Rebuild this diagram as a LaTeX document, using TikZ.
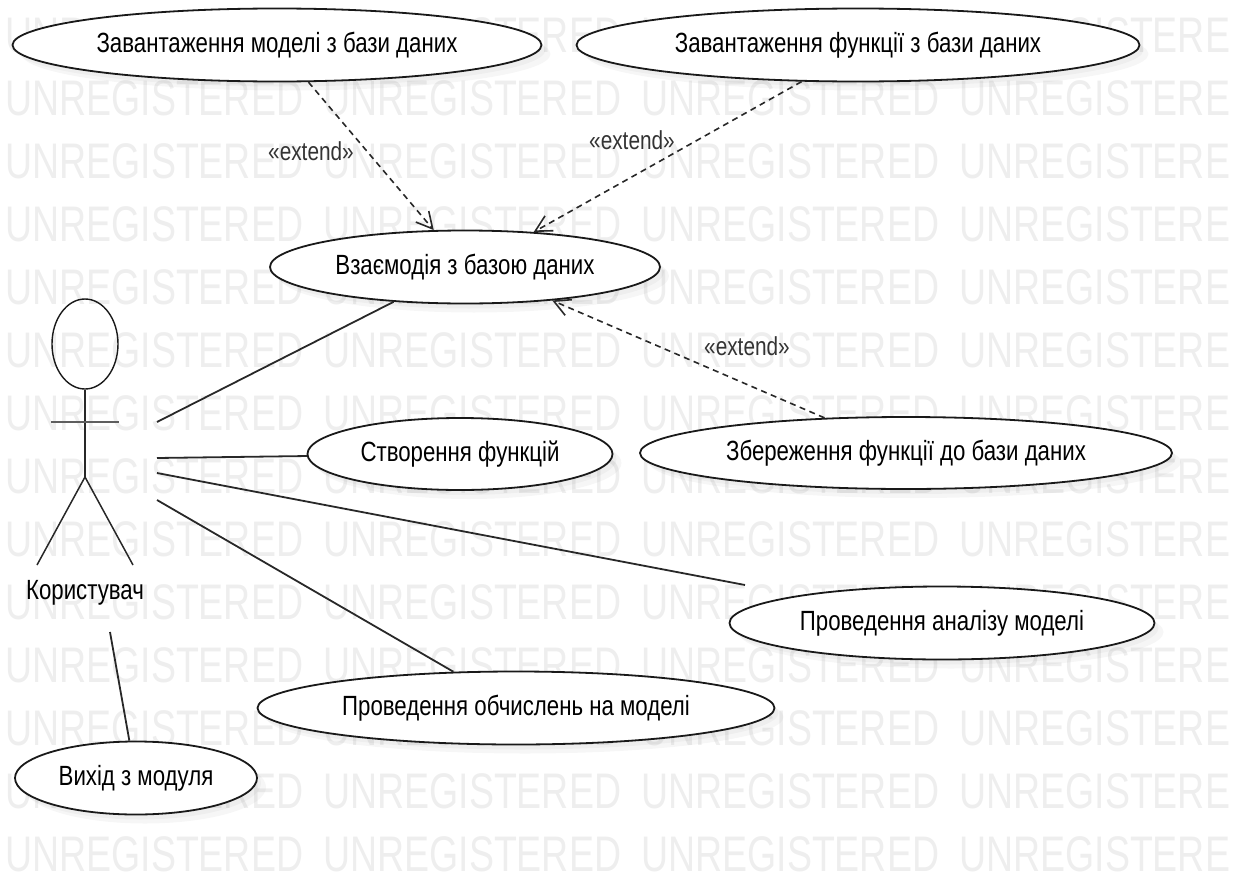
\documentclass[tikz,border=0pt]{standalone}
\usepackage{fontspec}
\setmainfont{Liberation Sans}[FakeStretch=0.8]
\newfontfamily\wmfont{Liberation Sans}[FakeStretch=0.75]
\usetikzlibrary{shapes.geometric,arrows.meta,shadows}
\definecolor{wmgray}{RGB}{238,238,238}
\definecolor{linegray}{RGB}{40,40,40}
\tikzset{
  usecase/.style={draw=black!90,line width=1.8pt,fill=white,ellipse,inner sep=0pt,text=black,font=\fontsize{27.8}{30}\selectfont,
    drop shadow={opacity=.07,shadow xshift=9pt,shadow yshift=-9pt},drop shadow={opacity=.07,shadow xshift=4pt,shadow yshift=-5pt}},
  watermark/.style={text=wmgray,inner sep=0pt,anchor=west,font=\wmfont\fontsize{50}{50}\selectfont},
  stereo/.style={text=black!80,inner sep=0pt,font=\fontsize{26}{28}\selectfont},
  assoc/.style={draw=linegray,line width=1.8pt},
  extendline/.style={draw=linegray,line width=1.6pt,dash pattern=on 6pt off 4.5pt,-{Straight Barb[length=16pt,width=17pt,line width=1.6pt]}}
}
\begin{document}
\begin{tikzpicture}[x=1pt,y=-1pt]
  \useasboundingbox (0,0) rectangle (1248,886);
  \begin{scope}
    \clip (0,0) rectangle (1231,886);
    \foreach \row in {0,...,13}
      \foreach \col in {0,...,3}
        \node[watermark] (wm\row\col) at ({5+318*\col},{35+63*\row}) {UNREGISTERED};
  \end{scope}
  \draw
    (277,45) node[usecase,minimum width=529pt,minimum height=73pt] (loadmodel){Завантаження моделі з бази даних}
    (858,45) node[usecase,minimum width=563pt,minimum height=73pt] (loadfunc){Завантаження функції з бази даних}
    (465,267) node[usecase,minimum width=390pt,minimum height=73pt] (database){Взаємодія з базою даних}
    (460,454) node[usecase,minimum width=305pt,minimum height=72pt] (createfunc){Створення функцій}
    (906,453) node[usecase,minimum width=532pt,minimum height=72pt] (savefunc){Збереження функції до бази даних}
    (942,623) node[usecase,minimum width=425pt,minimum height=73pt] (analysis){Проведення аналізу моделі}
    (516,708) node[usecase,minimum width=517pt,minimum height=73pt] (compute){Проведення обчислень на моделі}
    (136,778) node[usecase,minimum width=242pt,minimum height=73pt] (quit){Вихід з модуля};
  % actor
  \draw[assoc,line width=1.4pt]
    (85,344) node[draw=black!90,line width=1.4pt,ellipse,inner sep=0pt,minimum width=66pt,minimum height=90pt] (head){};
  \coordinate (hip) at (85,477);
  \coordinate (armleft) at (51,422);
  \coordinate (armright) at (119,422);
  \coordinate (footleft) at (37,565);
  \coordinate (footright) at (133,565);
  \node[text=black,inner sep=0pt,font=\fontsize{27.8}{30}\selectfont] (user) at (85,593) {Користувач};
  \draw[assoc] (head) -- (hip);
  \draw[assoc,line width=2.4pt,linegray!75] (armleft) -- (armright);
  \draw[assoc,line width=1.5pt] (footleft) -- (hip) -- (footright);
  % free ends beside the actor
  \coordinate (link0) at (157,422);
  \coordinate (link1) at (157,458);
  \coordinate (link2) at (157,473);
  \coordinate (link3) at (157,500);
  \coordinate (link4) at (110,632);
  \coordinate (analysisend) at (745,585);
  \begin{scope}[assoc]
    \draw (link0) to (database.206);
    \draw (link1) to (createfunc);
    \draw (link2) to (analysisend);
    \draw (link3) to (compute);
    \draw (link4) to (quit);
  \end{scope}
  \begin{scope}[extendline]
    \draw (loadmodel) to (database);
    \draw (loadfunc.213) to (database.27);
    \draw (savefunc) to (database.-21);
  \end{scope}
  \node[stereo] (extend0) at (311,151) {«extend»};
  \node[stereo] (extend1) at (632,140) {«extend»};
  \node[stereo] (extend2) at (747,346) {«extend»};
\end{tikzpicture}
\end{document}
